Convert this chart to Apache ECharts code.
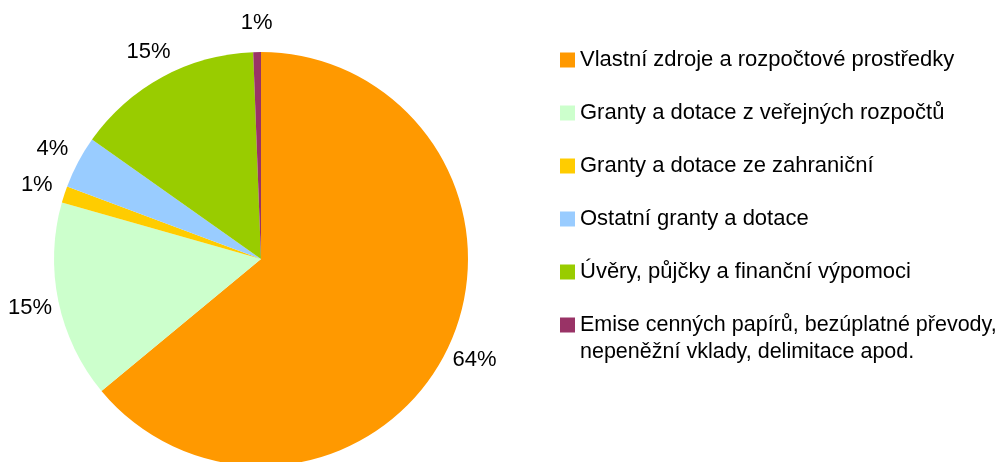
<!DOCTYPE html>
<html>
<head>
<meta charset="utf-8">
<script src="https://cdn.jsdelivr.net/npm/echarts@6/dist/echarts.min.js"></script>
<style>
html,body{margin:0;padding:0;background:#fff;}
#chart{width:1002px;height:462px;}
</style>
</head>
<body>
<div id="chart"></div>
<script>
const categories = [
  'Vlastní zdroje a rozpočtové prostředky',
  'Granty a dotace z veřejných rozpočtů',
  'Granty a dotace ze zahraniční',
  'Ostatní granty a dotace',
  'Úvěry, půjčky a finanční výpomoci',
  'Emise cenných papírů, bezúplatné převody,\nnepeněžní vklady, delimitace apod.'
];
const values = [64.0, 15.4, 1.3, 4.1, 14.6, 0.6];
const colors = ['#FF9900', '#CCFFCC', '#FFCC00', '#99CCFF', '#99CC00', '#993366'];

const CX = 261, CY = 259, R = 207, LABEL_R = 236;
const FONT = '"Liberation Sans", Arial, sans-serif';
const total = values.reduce((a, b) => a + b, 0);

const chart = echarts.init(document.getElementById('chart'));
chart.setOption({
  backgroundColor: '#ffffff',
  animation: false,
  color: colors,
  legend: [
    {
      orient: 'vertical', left: 560, top: 49, padding: 0,
      icon: 'rect', itemWidth: 15, itemHeight: 15, itemGap: 31,
      data: categories.slice(0, 5),
      selectedMode: false,
      textStyle: { fontFamily: FONT, fontSize: 22, color: '#000', lineHeight: 22 }
    },
    {
      orient: 'vertical', left: 560, top: 284.5, padding: 0,
      icon: 'rect', itemWidth: 15, itemHeight: 15,
      data: categories.slice(5),
      selectedMode: false,
      formatter: name => '\n' + name,
      textStyle: { fontFamily: FONT, fontSize: 21.5, color: '#000', lineHeight: 27 }
    }
  ],
  series: [{
    type: 'pie',
    center: [CX, CY],
    radius: R,
    startAngle: 90,
    clockwise: true,
    avoidLabelOverlap: false,
    itemStyle: { borderWidth: 0 },
    emphasis: { disabled: true },
    label: {
      show: true, position: 'outside',
      formatter: p => Math.round(p.percent) + '%',
      fontFamily: FONT, fontSize: 22, color: '#000'
    },
    labelLine: { show: false },
    labelLayout: function (params) {
      const i = params.dataIndex;
      let before = 0;
      for (let k = 0; k < i; k++) before += values[k];
      const mid = (before + values[i] / 2) / total * Math.PI * 2;
      return {
        x: CX + LABEL_R * Math.sin(mid),
        y: CY - LABEL_R * Math.cos(mid),
        align: 'center',
        verticalAlign: 'middle'
      };
    },
    data: categories.map((c, i) => ({ name: c, value: values[i] }))
  }]
});
</script>
</body>
</html>
